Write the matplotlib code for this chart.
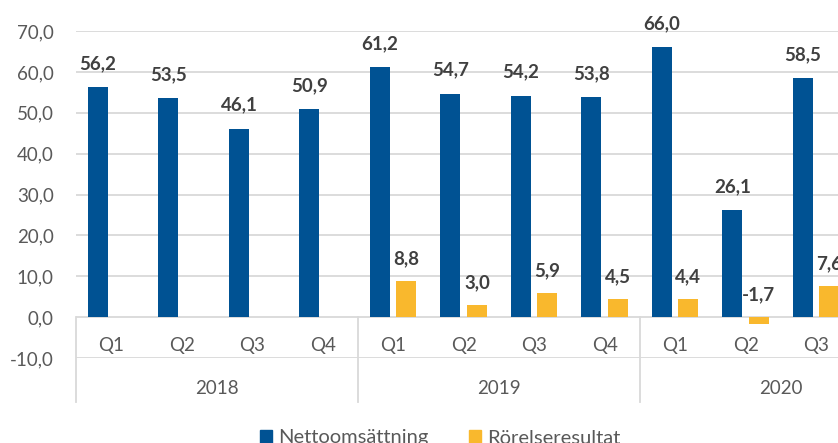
import numpy as np
import matplotlib
matplotlib.use("Agg")
from matplotlib import pyplot as plt

plt.rcParams['font.family'] = ['Lato', 'DejaVu Sans']

# data
years = ["2018", "2019", "2020"]
quarters = ["Q1", "Q2", "Q3", "Q4", "Q1", "Q2", "Q3", "Q4", "Q1", "Q2", "Q3"]
netto = [56.2, 53.5, 46.1, 50.9, 61.2, 54.7, 54.2, 53.8, 66.0, 26.1, 58.5]
rorelse = [np.nan, np.nan, np.nan, np.nan, 8.8, 3.0, 5.9, 4.5, 4.4, -1.7, 7.6]

blue = '#005293'
yellow = '#F9B82D'
grid_col = '#D9D9D9'
txt_col = '#595959'
lbl_col = '#404040'

def fmt(v):
    return f"{v:.1f}".replace(".", ",")

fig = plt.figure(figsize=(8.38, 4.43), dpi=100)
ax = fig.add_axes([76 / 838, 85 / 443, 762 / 838, 327 / 443])

x = np.arange(len(quarters))
w = 0.284
off = 0.188
ax.bar(x - off, netto, width=w, color=blue, zorder=3)
ax.bar(x + off, rorelse, width=w, color=yellow, zorder=3)

ax.set_xlim(-0.5, 10.31)
ax.set_ylim(-10, 70)

# horizontal gridlines
for yv in range(-10, 80, 10):
    ax.axhline(yv, color=grid_col, lw=1.3, zorder=1)

ax.set_yticks(range(-10, 80, 10))
ax.set_yticklabels([fmt(v) for v in range(-10, 80, 10)], fontsize=13.5, color=txt_col)
ax.tick_params(axis='y', length=0, pad=16)
ax.set_xticks([])
for s in ax.spines.values():
    s.set_visible(False)

# data labels
for xi, v in zip(x, netto):
    ax.annotate(fmt(v), (xi - off, max(v, 0)), xytext=(0, 17), textcoords='offset points',
                ha='center', va='center', fontsize=13.5, fontweight='bold', color=lbl_col)
for xi, v in zip(x, rorelse):
    if np.isnan(v):
        continue
    ax.annotate(fmt(v), (xi + off, max(v, 0)), xytext=(0, 16), textcoords='offset points',
                ha='center', va='center', fontsize=13.5, fontweight='bold', color=lbl_col)

# multi-level category axis
for xi, q in zip(x, quarters):
    ax.text(xi, -6.97, q, ha='center', va='center', fontsize=13.5, color=txt_col, clip_on=False)
for i, yr in enumerate(years):
    ax.text(4 * i + 1.5, -17.4, yr, ha='center', va='center', fontsize=13.5, color=txt_col, clip_on=False)
for i in range(len(years)):
    ax.plot([4 * i - 0.5, 4 * i - 0.5], [0, -20.8], color=grid_col, lw=1.3, clip_on=False, zorder=1)

# legend
fig.legend(handles=[plt.Rectangle((0, 0), 1, 1, color=blue), plt.Rectangle((0, 0), 1, 1, color=yellow)],
           labels=["Nettoomsättning", "Rörelseresultat"], loc='center', bbox_to_anchor=(440 / 838, 1 - 438 / 443),
           ncol=2, frameon=False, fontsize=14.5, handlelength=0.6, handleheight=0.6, handletextpad=0.3,
           columnspacing=2.0, labelcolor=txt_col)

fig.savefig("out.png", dpi=100)
